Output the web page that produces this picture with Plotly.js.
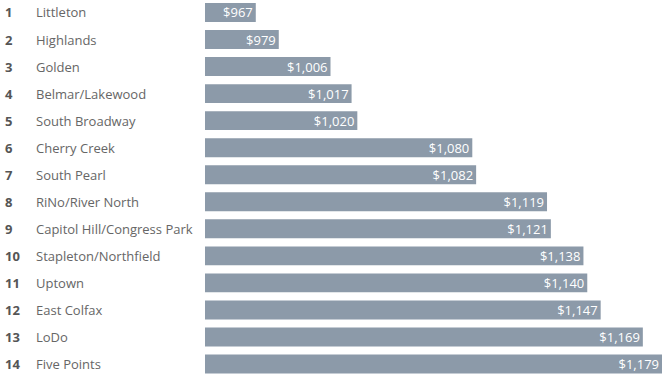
<!DOCTYPE html>
<html><head><meta charset="utf-8">
<script src="https://cdn.plot.ly/plotly-3.0.1.min.js"></script>
<style>html,body{margin:0;padding:0;background:#fff}#chart{width:665px;height:376px}</style>
</head><body><div id="chart"></div>
<script>
const ranks = [1,2,3,4,5,6,7,8,9,10,11,12,13,14];
const neighborhoods = ["Littleton","Highlands","Golden","Belmar/Lakewood","South Broadway","Cherry Creek","South Pearl","RiNo/River North","Capitol Hill/Congress Park","Stapleton/Northfield","Uptown","East Colfax","LoDo","Five Points"];
const rents = [967,979,1006,1017,1020,1080,1082,1119,1121,1138,1140,1147,1169,1179];

const fmt = v => "$" + v.toLocaleString("en-US");
const W = 665, L = 205, R = 3;
const plotW = W - L - R;
const px = p => (p - L) / plotW;

const annotations = [];
neighborhoods.forEach((n, i) => {
  annotations.push({x: px(3), y: n, xref: "paper", yref: "y", text: "<b>" + ranks[i] + "</b>",
    showarrow: false, xanchor: "left", yanchor: "middle", font: {family: "Open Sans", size: 13, color: "#555"}});
  annotations.push({x: px(34), y: n, xref: "paper", yref: "y", text: n,
    showarrow: false, xanchor: "left", yanchor: "middle", font: {family: "Open Sans", size: 13, color: "#666"}});
});

Plotly.newPlot("chart", [{
  type: "bar", orientation: "h", x: rents, y: neighborhoods,
  text: rents.map(fmt), textposition: "inside", insidetextanchor: "end", constraintext: "none",
  textfont: {family: "Open Sans", size: 13, color: "#fff"},
  marker: {color: "#8c9aa9"}, hoverinfo: "skip", cliponaxis: true
}], {
  width: 665, height: 376,
  margin: {l: L, r: R, t: 0, b: 0, pad: 0},
  paper_bgcolor: "#fff", plot_bgcolor: "#fff",
  bargap: 0.3, showlegend: false,
  xaxis: {range: [940.5, 1179], showgrid: false, zeroline: false, showticklabels: false, showline: false, ticks: ""},
  yaxis: {type: "category", range: [13.444, -0.462], showgrid: false, zeroline: false, showticklabels: false, ticks: ""},
  uniformtext: {mode: false},
  annotations: annotations
}, {displayModeBar: false, staticPlot: true});
</script></body></html>
